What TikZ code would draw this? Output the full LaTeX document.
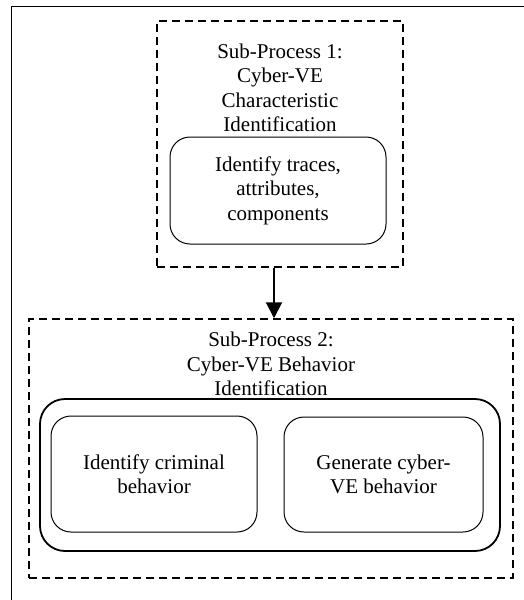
\documentclass[tikz,border=0pt]{standalone}
\usepackage{fontspec}
\setmainfont{Liberation Serif}
\usetikzlibrary{arrows.meta}
\begin{document}
\begin{tikzpicture}[x=1pt,y=-1pt,
  every node/.style={font=\fontsize{21}{24.5}\selectfont, align=center, inner sep=0pt},
  frame/.style={line width=1.8pt},
  subproc/.style={draw, line width=1.5pt, dash pattern=on 8pt off 5pt, rectangle},
  task/.style={draw, line width=1pt, rectangle, rounded corners=20pt},
  group/.style={draw, line width=1.8pt, rectangle, rounded corners=25pt},
  flow/.style={line width=2pt, -{Triangle[width=16pt,length=16pt]}}]
\useasboundingbox (0,0) rectangle (524,600);
% page frame (open to the right and bottom)
\draw[frame] (11.5,600) -- (11.5,6.5) -- (524,6.5);

% sub-process 1
\node[subproc, minimum width=246pt, minimum height=246pt] (box1) at (280,144) {};
\node (title1) at (280,88) {Sub-Process 1:\\Cyber-VE\\Characteristic\\Identification};
\node[task, minimum width=216pt, minimum height=107pt] (traces) at (278,190.5)
  {Identify traces,\\attributes,\\components};

% sub-process 2
\node[subproc, minimum width=484pt, minimum height=259pt] (box2) at (271,448.5) {};
\node (title2) at (271,364) {Sub-Process 2:\\Cyber-VE Behavior\\Identification};
\node[group, minimum width=460pt, minimum height=152pt] (behav) at (270,475) {};
\node[task, minimum width=206pt, minimum height=116pt] (crim) at (154,474)
  {Identify criminal\\behavior};
\node[task, minimum width=199pt, minimum height=115pt] (gen) at (383.5,474.5)
  {Generate cyber-\\VE behavior};

% link between the sub-processes
\coordinate (ax) at (274,0);
\draw[flow] (box1.south -| ax) -- (box2.north -| ax);
\end{tikzpicture}
\end{document}
